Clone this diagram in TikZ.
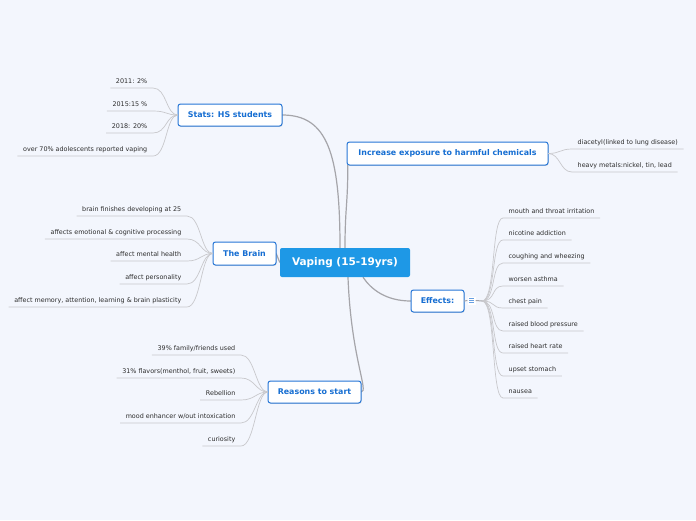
\documentclass[tikz,border=0pt]{standalone}
\usepackage{fontspec}
\setmainfont{DejaVu Sans}
\usetikzlibrary{shadows}
\definecolor{bg}{RGB}{243,246,253}
\definecolor{centralfill}{RGB}{30,152,230}
\definecolor{topicborder}{RGB}{38,118,214}
\definecolor{topictext}{RGB}{22,110,210}
\definecolor{leaftext}{RGB}{45,45,45}
\definecolor{leafline}{RGB}{200,200,204}
\definecolor{mainline}{RGB}{165,165,170}
\tikzset{
  central/.style={fill=centralfill, text=white, rounded corners=2pt, minimum width=130pt, minimum height=29pt, inner sep=0pt, font=\bfseries\fontsize{10.5}{12}\selectfont},
  topic/.style={draw=topicborder, fill=white, line width=1pt, rounded corners=2.5pt, text=topictext, inner sep=0pt, minimum height=22pt, font=\bfseries\fontsize{7.9}{9}\selectfont, drop shadow={shadow xshift=0.6pt, shadow yshift=-0.9pt, opacity=0.25}},
  leaf/.style={text=leaftext, font=\fontsize{6.4}{7}\selectfont, inner xsep=5.5pt, inner ysep=2pt, text height=5pt, text depth=2.5pt},
  leafL/.style={leaf, anchor=south east},
  leafR/.style={leaf, anchor=south west},
  leafline/.style={draw=leafline, line width=0.7pt},
  mainconn/.style={draw=mainline, line width=1.2pt},
}
\begin{document}
\begin{tikzpicture}[x=1pt,y=-1pt]
\fill[bg] (0,0) rectangle (696,520);
\useasboundingbox (0,0) rectangle (696,520);

% node positions (named), used by the connectors
\coordinate (cpos) at (345,262.5);
\path (cpos) node[central, opacity=0, text opacity=0] (c) {Vaping (15-19yrs)};
\path (230,115) node[minimum width=104pt, minimum height=22pt, inner sep=0pt] (stats) {};
\path (447.5,153.5) node[minimum width=201pt, minimum height=23pt, inner sep=0pt] (exp) {};
\path (244.5,253.5) node[minimum width=63pt, minimum height=23pt, inner sep=0pt] (brain) {};
\path (437.5,301) node[minimum width=53pt, minimum height=22pt, inner sep=0pt] (eff) {};
\path (314.5,392) node[minimum width=93pt, minimum height=22pt, inner sep=0pt] (reasons) {};

% main connectors
\draw[mainconn] ([xshift=-5pt]c.north) .. controls +(0,-95) and +(45,0) .. (stats.east);
\draw[mainconn] (c.north) .. controls +(0,-40) and +(0,40) .. ([xshift=1pt]exp.south west);
\draw[mainconn] (brain.east) -- (c.west);
\draw[mainconn] ([xshift=18pt]c.south) .. controls +(8,12) and +(-25,0) .. (eff.west);
\draw[mainconn] ([xshift=3pt]c.south) .. controls +(3,80) and +(8,0) .. (reasons.east);

% boxes drawn over the connectors
\node[topic, minimum width=104pt] (statsbox) at (stats) {Stats: HS students};
\node[topic, minimum width=201pt, minimum height=23pt] (expbox) at (exp) {Increase exposure to harmful chemicals};
\node[topic, minimum width=63pt, minimum height=23pt] (brainbox) at (brain) {The Brain};
\node[topic, minimum width=53pt] (effbox) at (eff) {Effects:};
\node[topic, minimum width=93pt] (reasonsbox) at (reasons) {Reasons to start};
\node[central] (cbox) at (cpos) {Vaping (15-19yrs)};

% Stats leaves
\foreach \n/\t/\y in {s1/{2011: 2\%}/88, s2/{2015:15 \%}/111, s3/{2018: 20\%}/133, s4/{over 70\% adolescents reported vaping}/156}{
  \node[leafL] (\n) at (153,\y) {\t};
  \draw[leafline] (\n.south west) -- (\n.south east) .. controls +(14,0) and +(-12,0) .. (stats.west);
}
% Brain leaves
\foreach \n/\t/\y in {b1/{brain finishes developing at 25}/216, b2/{affects emotional \& cognitive processing}/239, b3/{affect mental health}/261, b4/{affect personality}/284, b5/{affect memory, attention, learning \& brain plasticity}/307}{
  \node[leafL] (\n) at (187,\y) {\t};
  \draw[leafline] (\n.south west) -- (\n.south east) .. controls +(14,0) and +(-12,0) .. (brain.west);
}
% Reasons leaves
\foreach \n/\t/\y in {r1/{39\% family/friends used}/355, r2/{31\% flavors(menthol, fruit, sweets)}/378, r3/{Rebellion}/400, r4/{mood enhancer w/out intoxication}/423, r5/{curiosity}/446}{
  \node[leafL] (\n) at (241,\y) {\t};
  \draw[leafline] (\n.south west) -- (\n.south east) .. controls +(14,0) and +(-12,0) .. (reasons.west);
}
% Exposure leaves
\foreach \n/\t/\y in {x1/{diacetyl(linked to lung disease)}/149, x2/{heavy metals:nickel, tin, lead}/172}{
  \node[leafR] (\n) at (572,\y) {\t};
  \draw[leafline] (exp.east) .. controls +(12,0) and +(-12,0) .. (\n.south west) -- (\n.south east);
}
% Effects icon and hub
\node[fill=white, minimum width=8pt, minimum height=8pt, inner sep=0pt] (icon) at (471.5,300.5) {};
\draw[draw=topicborder!70, line width=0.8pt] ([xshift=-2.5pt,yshift=-2pt]icon.center) -- +(5,0)
  ([xshift=-2.5pt]icon.center) -- +(5,0) ([xshift=-2.5pt,yshift=2pt]icon.center) -- +(5,0);
\coordinate (hub) at (482,301);
\draw[draw=mainline, line width=1pt] (eff.east) -- (icon.west);
\draw[draw=mainline, line width=1pt] (icon.east) -- (hub);
\foreach \n/\t/\y in {e1/{mouth and throat irritation}/218, e2/{nicotine addiction}/240, e3/{coughing and wheezing}/263, e4/{worsen asthma}/286, e5/{chest pain}/308, e6/{raised blood pressure}/331, e7/{raised heart rate}/353, e8/{upset stomach}/376, e9/{nausea}/398}{
  \node[leafR] (\n) at (503,\y) {\t};
  \draw[leafline] (hub) .. controls +(14,0) and +(-12,0) .. (\n.south west) -- (\n.south east);
}
\end{tikzpicture}
\end{document}
